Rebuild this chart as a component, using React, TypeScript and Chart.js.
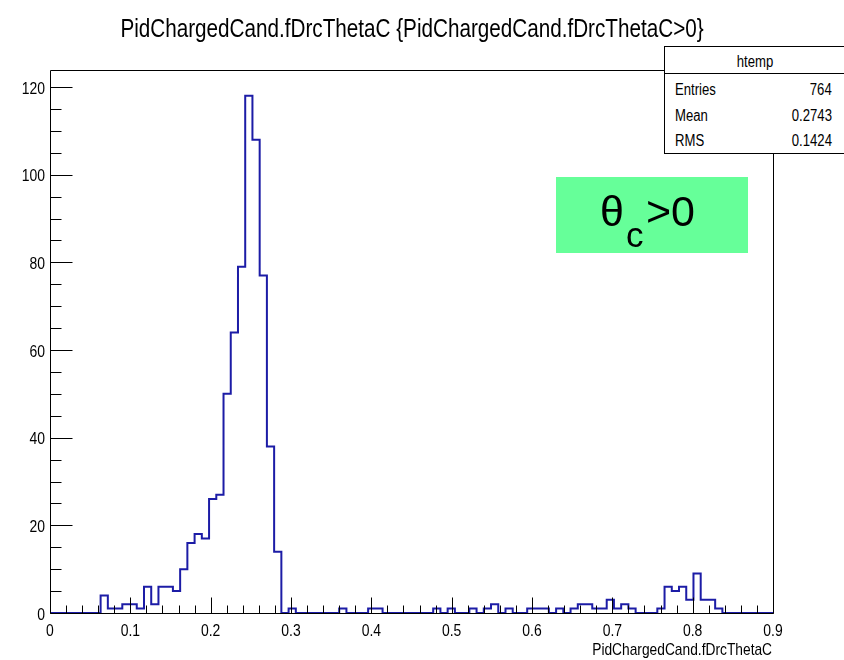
import React, { useEffect, useRef } from 'react';
import { Chart, registerables } from 'chart.js';

Chart.register(...registerables);

// Histogram definition (ROOT htemp: 100 bins over [0, 0.9])
const X_MIN = 0;
const X_MAX = 0.9;
const N_BINS = 100;
const Y_MAX = 123.9;

// Bin contents, bin 0 .. bin 99
const BIN_COUNTS = [
  0, 0, 0, 0, 0, 0, 0, 4, 1, 1,
  2, 2, 1, 6, 2, 6, 6, 5, 10, 16,
  18, 17, 26, 27, 50, 64, 79, 118, 108, 77,
  38, 14, 0, 1, 0, 0, 0, 0, 0, 0,
  1, 0, 0, 0, 1, 1, 0, 0, 0, 0,
  0, 0, 0, 1, 0, 1, 0, 0, 1, 0,
  1, 2, 0, 1, 0, 0, 1, 1, 1, 0,
  1, 0, 1, 2, 2, 1, 1, 3, 1, 2,
  1, 0, 0, 0, 1, 6, 5, 6, 3, 9,
  3, 3, 1, 0, 0, 0, 0, 0, 0, 0,
];

const X_TICKS = [0, 0.1, 0.2, 0.3, 0.4, 0.5, 0.6, 0.7, 0.8, 0.9];
const X_TICK_LABELS = ['0', '0.1', '0.2', '0.3', '0.4', '0.5', '0.6', '0.7', '0.8', '0.9'];
const X_MINOR_STEP = 0.02;
const Y_TICKS = [0, 20, 40, 60, 80, 100, 120];
const Y_TICK_LABELS = ['0', '20', '40', '60', '80', '100', '120'];
const Y_MINOR_STEP = 5;

const TITLE = 'PidChargedCand.fDrcThetaC {PidChargedCand.fDrcThetaC>0}';
const X_TITLE = 'PidChargedCand.fDrcThetaC';
const STATS_NAME = 'htemp';
const STATS_LABELS = ['Entries', 'Mean', 'RMS'];
const STATS_VALUES = ['764', '0.2743', '0.1424'];

const FONT = "'Liberation Sans', Arial, sans-serif";
const HSCALE = 0.82; // ROOT's Helvetica rendering is horizontally condensed
const LINE_COLOR = '#1c1ca6';

const framePlugin = {
  id: 'rootFrame',
  afterDraw(chart: any) {
    const { ctx, chartArea } = chart;
    const xs = chart.scales.x;
    const ys = chart.scales.y;
    const L = Math.round(chartArea.left) + 0.5;
    const R = Math.round(chartArea.right) + 0.5;
    const T = Math.round(chartArea.top) + 0.5;
    const B = Math.round(chartArea.bottom) + 0.5;
    ctx.save();
    ctx.strokeStyle = '#000';
    ctx.lineWidth = 1;
    ctx.beginPath();
    ctx.rect(L, T, R - L, B - T);
    const nx = Math.round((X_MAX - X_MIN) / X_MINOR_STEP);
    for (let k = 0; k <= nx; k++) {
      const v = X_MIN + k * X_MINOR_STEP;
      const px = Math.round(xs.getPixelForValue(v)) + 0.5;
      const major = k % 5 === 0;
      ctx.moveTo(px, B);
      ctx.lineTo(px, B - (major ? 16 : 8));
    }
    const ny = Math.floor(Y_MAX / Y_MINOR_STEP);
    for (let k = 0; k <= ny; k++) {
      const v = k * Y_MINOR_STEP;
      const py = Math.round(ys.getPixelForValue(v)) + 0.5;
      const major = k % 4 === 0;
      ctx.moveTo(L, py);
      ctx.lineTo(L + (major ? 22 : 11), py);
    }
    ctx.stroke();

    // tick labels (condensed like ROOT's output)
    ctx.fillStyle = '#000';
    ctx.font = `17px ${FONT}`;
    ctx.textBaseline = 'alphabetic';
    ctx.textAlign = 'center';
    X_TICKS.forEach((v, i) => {
      const px = xs.getPixelForValue(v);
      ctx.save();
      ctx.translate(px, B + 22);
      ctx.scale(HSCALE, 1);
      ctx.fillText(X_TICK_LABELS[i], 0, 0);
      ctx.restore();
    });
    ctx.textAlign = 'right';
    Y_TICKS.forEach((v, i) => {
      const py = ys.getPixelForValue(v);
      ctx.save();
      ctx.translate(L - 5.5, py + 6.5);
      ctx.scale(HSCALE, 1);
      ctx.fillText(Y_TICK_LABELS[i], 0, 0);
      ctx.restore();
    });
    ctx.restore();
  },
};

export default function App() {
  const canvasRef = useRef<HTMLCanvasElement>(null);

  useEffect(() => {
    const binW = (X_MAX - X_MIN) / N_BINS;
    const points = BIN_COUNTS.map((c, i) => ({ x: X_MIN + i * binW, y: c }));
    points.push({ x: X_MAX, y: BIN_COUNTS[BIN_COUNTS.length - 1] });

    const chart = new Chart(canvasRef.current as HTMLCanvasElement, {
      type: 'line',
      data: {
        datasets: [
          {
            data: points,
            stepped: true,
            borderColor: LINE_COLOR,
            borderWidth: 2,
            pointRadius: 0,
            fill: false,
          },
        ],
      },
      options: {
        responsive: false,
        animation: false,
        devicePixelRatio: 1,
        layout: { padding: { left: 0, right: 71, top: 70, bottom: 0 } },
        plugins: { legend: { display: false }, tooltip: { enabled: false }, title: { display: false } },
        scales: {
          x: {
            type: 'linear',
            min: X_MIN,
            max: X_MAX,
            grid: { display: false, drawTicks: false },
            border: { display: false },
            afterBuildTicks: (s: any) => {
              s.ticks = X_TICKS.map((v) => ({ value: v }));
            },
            afterFit: (s: any) => {
              s.height = 47;
            },
            ticks: { display: false },
          },
          y: {
            type: 'linear',
            min: 0,
            max: Y_MAX,
            grid: { display: false, drawTicks: false },
            border: { display: false },
            afterBuildTicks: (s: any) => {
              s.ticks = Y_TICKS.map((v) => ({ value: v }));
            },
            afterFit: (s: any) => {
              s.width = 50;
            },
            ticks: { display: false },
          },
        },
      },
      plugins: [framePlugin],
    } as any);
    return () => chart.destroy();
  }, []);

  const txt: React.CSSProperties = {
    position: 'absolute',
    fontFamily: FONT,
    fontSize: 16,
    lineHeight: '16px',
    color: '#000',
    whiteSpace: 'nowrap',
  };
  const big: React.CSSProperties = {
    position: 'absolute',
    fontFamily: FONT,
    color: '#000',
    whiteSpace: 'nowrap',
  };

  return (
    <div style={{ position: 'fixed', left: 0, top: 0, width: 844, height: 660, background: '#fff', overflow: 'hidden' }}>
      <canvas ref={canvasRef} width={844} height={660} style={{ position: 'absolute', left: 0, top: 0 }} />
      <div
        style={{
          ...txt,
          fontSize: 25,
          lineHeight: '25px',
          left: 411.5,
          top: 16,
          transform: `translateX(-50%) scaleX(0.827)`,
        }}
      >
        {TITLE}
      </div>
      <div
        style={{
          ...txt,
          fontSize: 17,
          lineHeight: '17px',
          right: 844 - 772,
          top: 641,
          transformOrigin: 'right center',
          transform: 'scaleX(0.81)',
        }}
      >
        {X_TITLE}
      </div>
      <div
        style={{
          position: 'absolute',
          left: 664,
          top: 46,
          width: 182,
          height: 108,
          border: '1px solid #000',
          background: '#fff',
          boxSizing: 'border-box',
        }}
      >
        <div style={{ position: 'absolute', left: 0, top: 0, width: '100%', height: 26, borderBottom: '1px solid #000' }} />
        <div style={{ ...txt, left: 0, width: 180, textAlign: 'center', top: 7, transform: `scaleX(${HSCALE})` }}>{STATS_NAME}</div>
        {STATS_LABELS.map((l, i) => (
          <React.Fragment key={l}>
            <div style={{ ...txt, left: 10, top: 35 + i * 25.5, transformOrigin: 'left center', transform: `scaleX(${HSCALE})` }}>{l}</div>
            <div style={{ ...txt, right: 13, top: 35 + i * 25.5, textAlign: 'right', transformOrigin: 'right center', transform: `scaleX(${HSCALE})` }}>
              {STATS_VALUES[i]}
            </div>
          </React.Fragment>
        ))}
      </div>
      <div
        style={{
          position: 'absolute',
          left: 556,
          top: 177,
          width: 192,
          height: 76,
          background: '#66ff99',
        }}
      >
        <span style={{ ...big, left: 44, top: 13, fontSize: 43, lineHeight: '43px' }}>θ</span>
        <span style={{ ...big, left: 70, top: 40, fontSize: 35, lineHeight: '35px' }}>c</span>
        <span style={{ ...big, left: 90, top: 13, fontSize: 43, lineHeight: '43px' }}>&gt;0</span>
      </div>
    </div>
  );
}
